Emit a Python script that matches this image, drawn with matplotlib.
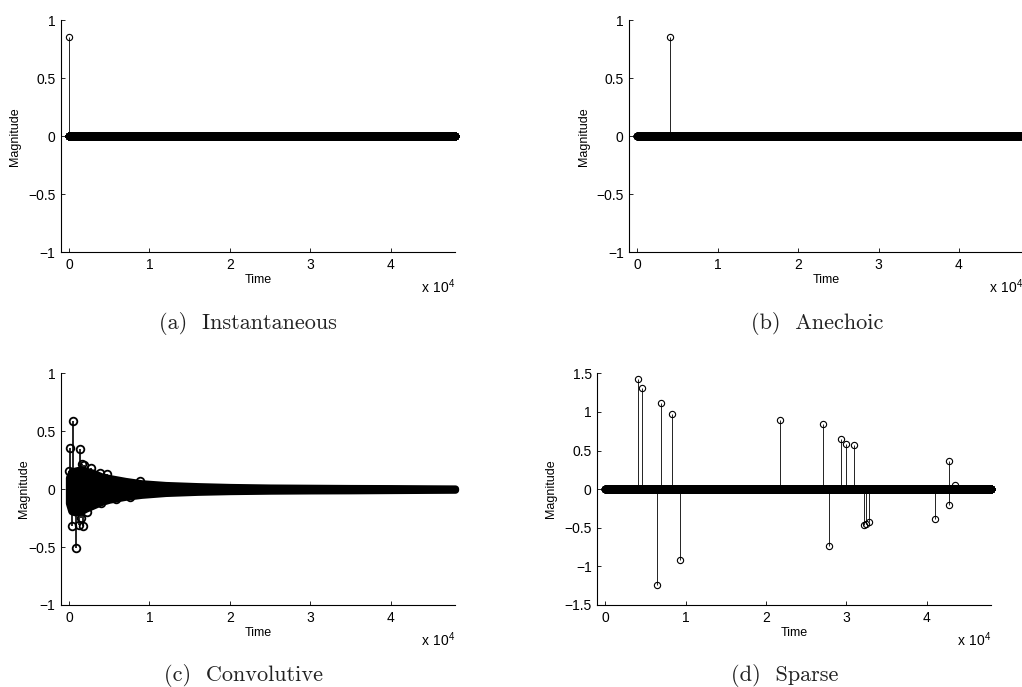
import numpy as np
import matplotlib
matplotlib.use('Agg')
import matplotlib.pyplot as plt
from matplotlib.ticker import FuncFormatter, FixedLocator

plt.rcParams['font.family'] = ['Liberation Sans', 'DejaVu Sans']
plt.rcParams['axes.unicode_minus'] = True

# ---------------- data ----------------
N_SAMPLES = 48000

# (a) Instantaneous
inst_times = [0]
inst_values = [0.86]

# (b) Anechoic
anech_times = [4000]
anech_values = [0.86]

# (c) Convolutive: envelope of the dense response + visible peak samples
conv_env_times = [0, 300, 800, 1500, 2000, 3000, 4000, 5000, 7000, 9000,
                  12000, 16000, 20000, 25000, 30000, 35000, 40000, 45000, 48000]
conv_env_upper = [0.10, 0.15, 0.16, 0.17, 0.16, 0.14, 0.11, 0.095, 0.07, 0.05,
                  0.035, 0.025, 0.018, 0.013, 0.011, 0.009, 0.008, 0.006, 0.005]
conv_env_lower = [-0.12, -0.19, -0.20, -0.19, -0.17, -0.14, -0.11, -0.09, -0.065, -0.048,
                  -0.032, -0.022, -0.016, -0.012, -0.010, -0.009, -0.007, -0.005, -0.004]
conv_peak_times = [30, 60, 500, 330, 830, 1240, 1370, 1450, 1660, 1740, 1900,
                   2700, 3900, 4760, 8800, 3930, 5800, 7570, 1100, 2200]
conv_peak_values = [0.157, 0.357, 0.59, -0.318, -0.505, -0.31, 0.344, -0.25, 0.22, -0.32, 0.21,
                    0.18, 0.14, 0.128, 0.073, -0.116, -0.087, -0.065, 0.15, -0.20]

# (d) Sparse
sparse_times = [4020, 4560, 6430, 6930, 8250, 9330, 21720, 27070, 27800, 29290,
                29900, 31000, 32200, 32500, 32850, 41080, 42800, 42810, 43500]
sparse_values = [1.42, 1.31, -1.24, 1.11, 0.97, -0.92, 0.89, 0.84, -0.73, 0.65,
                 0.59, 0.57, -0.46, -0.45, -0.43, -0.39, 0.37, -0.21, 0.05]

x_ticks = [0, 10000, 20000, 30000, 40000]
x_tick_labels = ['0', '1', '2', '3', '4']
y_ticks_unit = [-1, -0.5, 0, 0.5, 1]
y_ticks_sparse = [-1.5, -1, -0.5, 0, 0.5, 1, 1.5]

captions = ['(a)  Instantaneous', '(b)  Anechoic', '(c)  Convolutive', '(d)  Sparse']

# ---------------- layout ----------------
W, H = 1022, 687
fig = plt.figure(figsize=(W / 100, H / 100), dpi=100)


def ax_px(left, top, right, bottom):
    return fig.add_axes([left / W, 1 - bottom / H, (right - left) / W, (bottom - top) / H])


def build_signal(times, values):
    sig = np.zeros(N_SAMPLES)
    sig[np.asarray(times)] = values
    return sig


def style_axes(ax, yticks, ylim, ylabel_x):
    ax.set_xlim(-1000, 48000)
    ax.set_ylim(*ylim)
    for s in ['top', 'right']:
        ax.spines[s].set_visible(False)
    for s in ['left', 'bottom']:
        ax.spines[s].set_linewidth(0.8)
    ax.xaxis.set_major_locator(FixedLocator(x_ticks))
    ax.set_xticklabels(x_tick_labels)
    ax.yaxis.set_major_locator(FixedLocator(yticks))
    ax.yaxis.set_major_formatter(FuncFormatter(lambda v, p: f"{v:g}".replace('-', '\u2212')))
    ax.tick_params(direction='in', length=3, width=0.6, labelsize=10, pad=4)
    ax.set_xlabel('Time', fontsize=9)
    ax.set_ylabel('Magnitude', fontsize=9)
    ax.xaxis.set_label_coords(0.5, -0.095)
    ax.yaxis.set_label_coords(ylabel_x, 0.5)
    ax.text(1.0, -0.175, r'$\mathregular{x\ 10^{4}}$', transform=ax.transAxes,
            ha='right', va='baseline', fontsize=10)


def draw_stem(ax, sig, ms=4.5, mew=0.8, lw=0.6):
    t = np.arange(N_SAMPLES)
    ml, sl, bl = ax.stem(t, sig, linefmt='k-', markerfmt='o', basefmt=' ')
    ml.set_markerfacecolor('none')
    ml.set_markeredgecolor('k')
    ml.set_markersize(ms)
    ml.set_markeredgewidth(mew)
    ml.set_clip_on(False)
    sl.set_linewidth(lw)
    sl.set_color('k')


# (a)
ax_a = ax_px(61, 20.3, 455, 252.3)
draw_stem(ax_a, build_signal(inst_times, inst_values))
style_axes(ax_a, y_ticks_unit, (-1, 1), -0.102)

# (b)
ax_b = ax_px(629.3, 20.3, 1023.3, 252.3)
draw_stem(ax_b, build_signal(anech_times, anech_values))
style_axes(ax_b, y_ticks_unit, (-1, 1), -0.100)

# (c)
ax_c = ax_px(61, 373.3, 455, 605)
ax_c.fill_between(conv_env_times, conv_env_upper, conv_env_lower, facecolor='k',
                  edgecolor='k', linewidth=5.3, joinstyle='round', capstyle='round', clip_on=False)
ml, sl, bl = ax_c.stem(conv_peak_times, conv_peak_values, linefmt='k-', markerfmt='o', basefmt=' ')
ml.set_markerfacecolor('none')
ml.set_markeredgecolor('k')
ml.set_markersize(5.5)
ml.set_markeredgewidth(1.3)
sl.set_linewidth(1.2)
sl.set_color('k')
style_axes(ax_c, y_ticks_unit, (-1, 1), -0.079)

# (d)
ax_d = ax_px(597.3, 373.3, 991, 605)
draw_stem(ax_d, build_signal(sparse_times, sparse_values))
style_axes(ax_d, y_ticks_sparse, (-1.5, 1.5), -0.103)

# captions
cap_pos = [(248, 328.5), (817.5, 328.5), (244, 681), (785, 681)]
for (cx, cy), txt in zip(cap_pos, captions):
    fig.text(cx / W, 1 - cy / H, txt, family='cmr10', fontsize=16,
             ha='center', va='baseline', color='#222222')

fig.savefig('out.png', dpi=100)
